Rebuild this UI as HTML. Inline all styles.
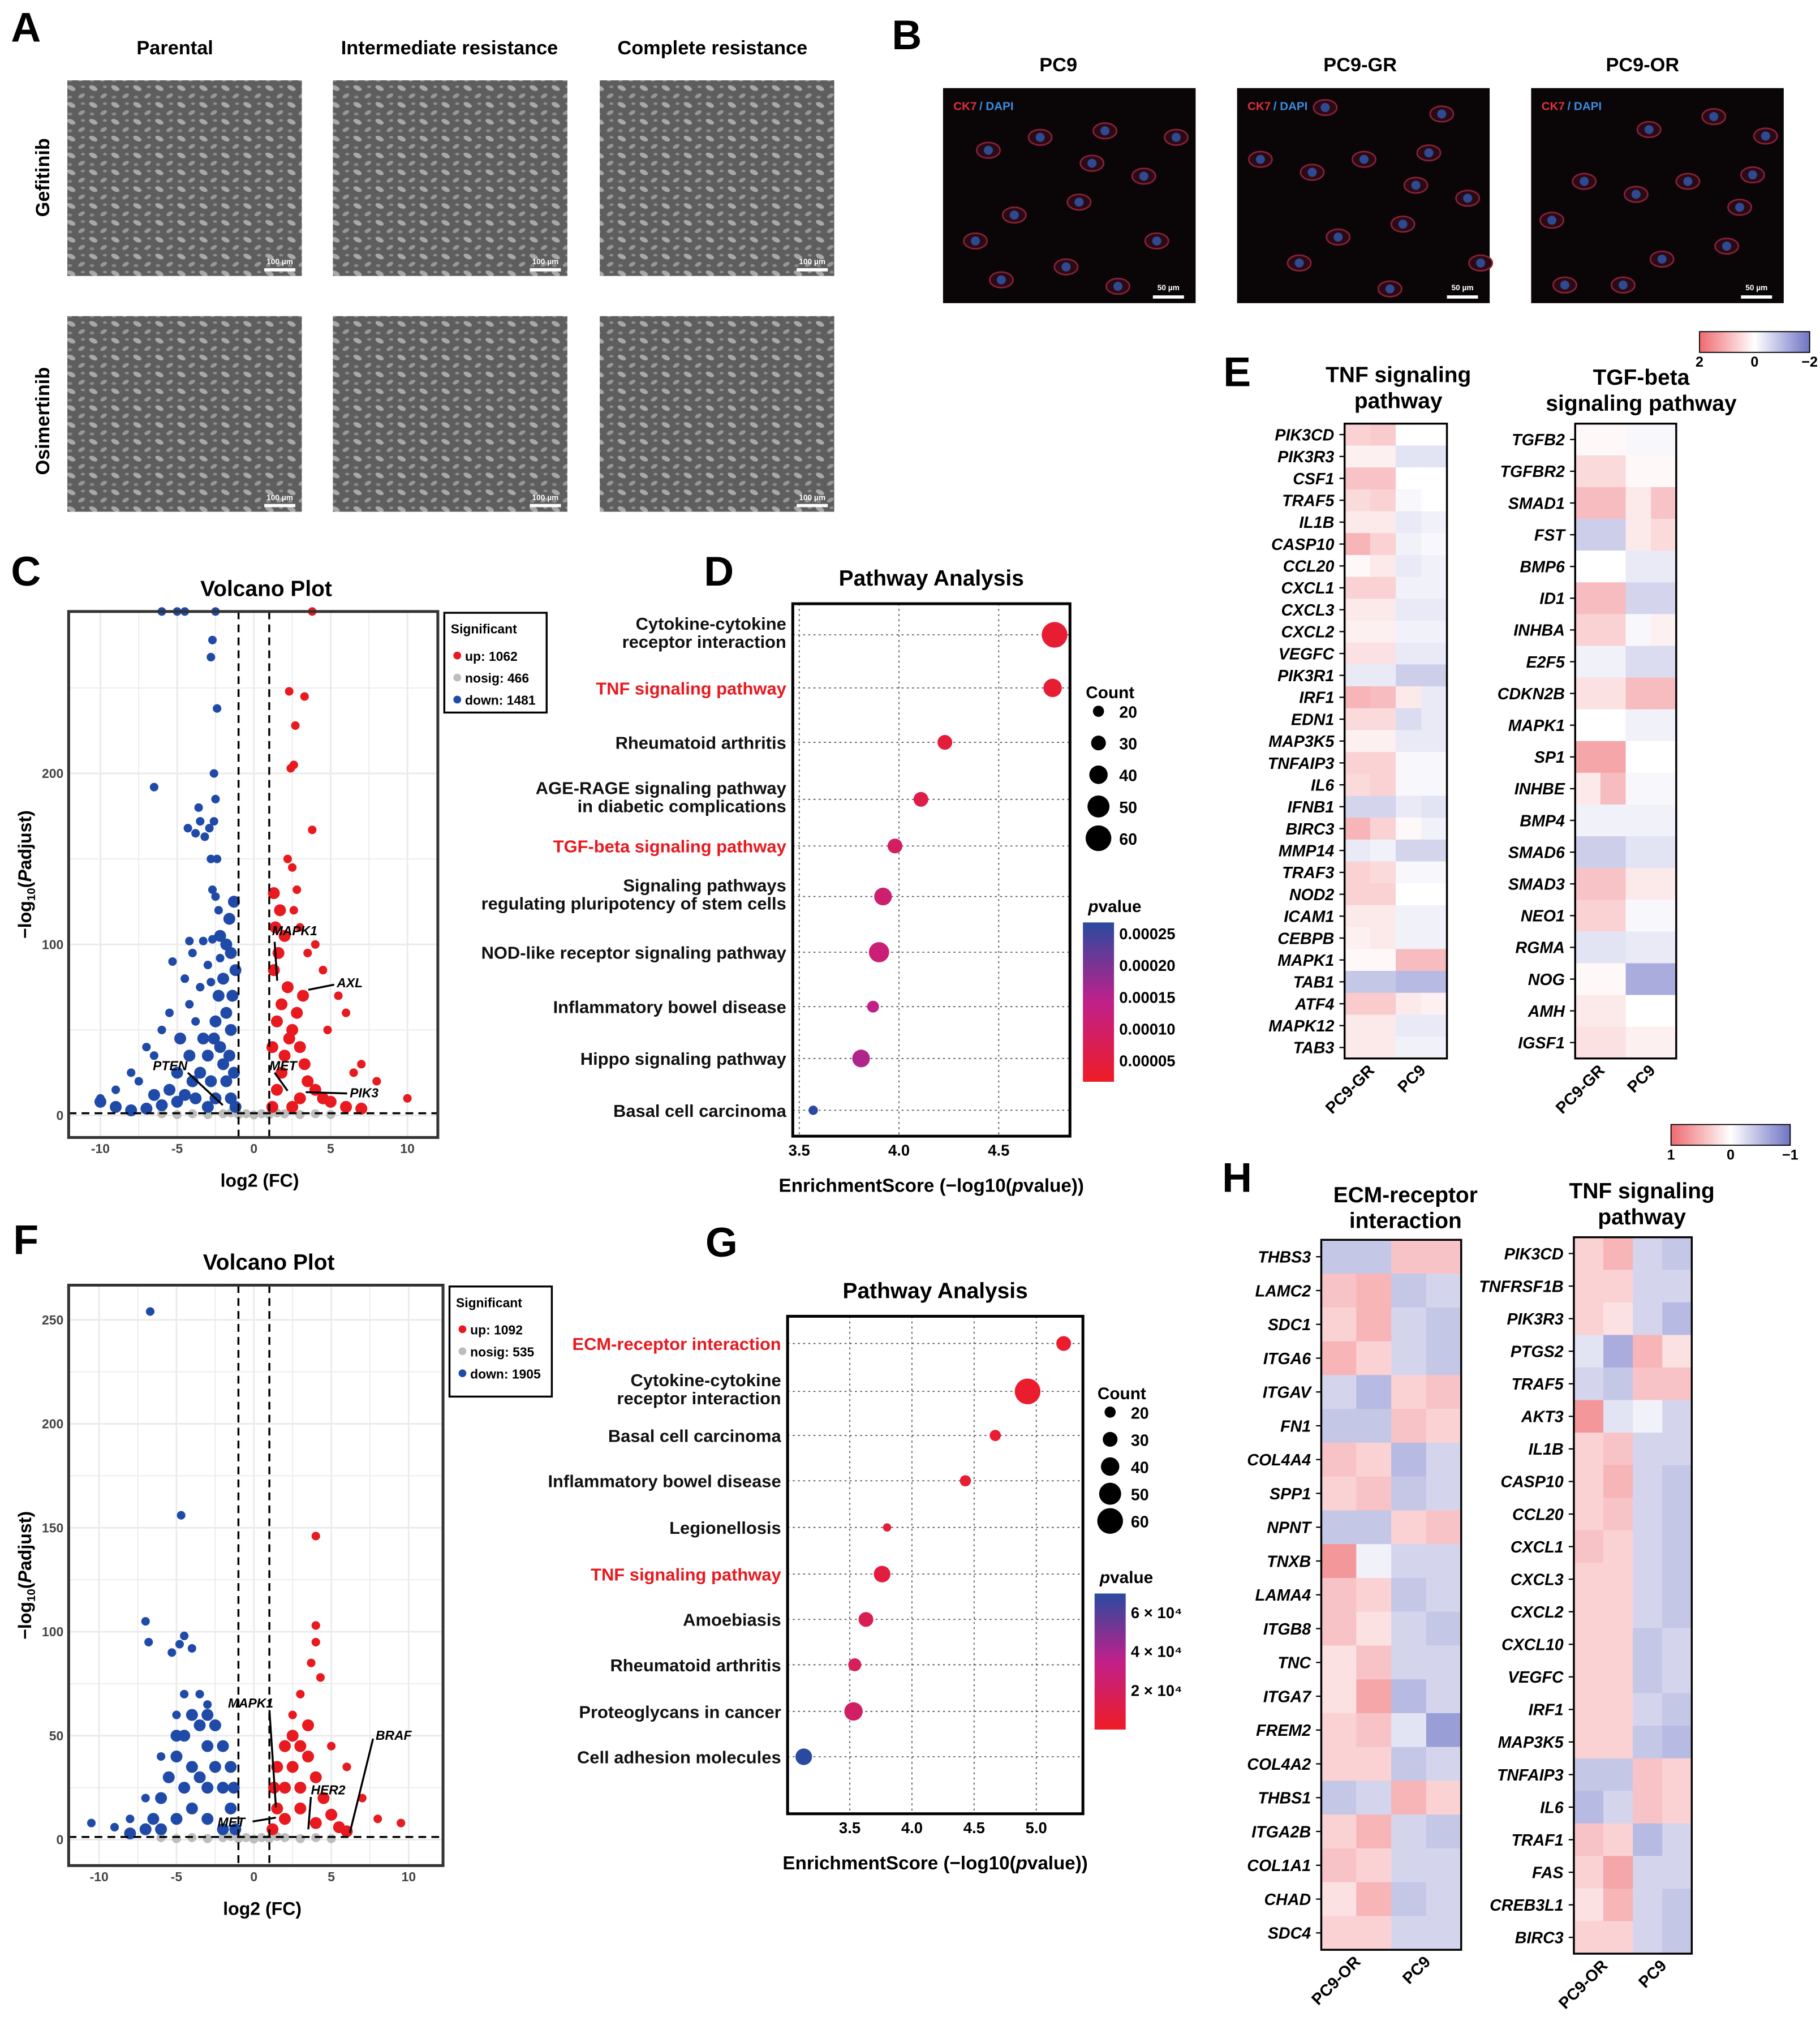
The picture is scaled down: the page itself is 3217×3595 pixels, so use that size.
<!DOCTYPE html>
<html><head><meta charset="utf-8"><style>
html,body{margin:0;padding:0;background:#fff;}
svg{display:block;font-family:"Liberation Sans",Arial,sans-serif;}
</style></head><body>
<svg id="fig" xmlns="http://www.w3.org/2000/svg" width="3217" height="3595" viewBox="0 0 1405 1570" preserveAspectRatio="none">
<defs>
<pattern id="cells" width="17" height="13" patternUnits="userSpaceOnUse">
<rect width="17" height="13" fill="#5e5e5e"/>
<ellipse cx="4" cy="3" rx="3.4" ry="1.8" fill="#a8a8a8" transform="rotate(25 4 3)"/>
<ellipse cx="12" cy="9" rx="2.8" ry="1.5" fill="#979797" transform="rotate(-30 12 9)"/>
<ellipse cx="3" cy="10" rx="1.8" ry="1.2" fill="#888"/>
<ellipse cx="13" cy="2" rx="1.6" ry="1" fill="#8e8e8e"/>
</pattern>
<linearGradient id="gE" x1="0" x2="1"><stop offset="0" stop-color="#ee6a70"/><stop offset="0.5" stop-color="#ffffff"/><stop offset="1" stop-color="#6f74c4"/></linearGradient>
<linearGradient id="gP" x1="0" y1="0" x2="0" y2="1"><stop offset="0" stop-color="#2a4aa0"/><stop offset="0.5" stop-color="#c0208a"/><stop offset="1" stop-color="#ee1c25"/></linearGradient>
</defs>
</svg>
<script>
// ---------- DATA ----------
const dCats=["Cytokine-cytokine|receptor interaction","TNF signaling pathway","Rheumatoid arthritis","AGE-RAGE signaling pathway|in diabetic complications","TGF-beta signaling pathway","Signaling pathways|regulating pluripotency of stem cells","NOD-like receptor signaling pathway","Inflammatory bowel disease","Hippo signaling pathway","Basal cell carcinoma"];
const dRed=[false,true,false,false,true,false,false,false,false,false];
const dScore=[4.78,4.77,4.23,4.11,3.98,3.92,3.90,3.87,3.81,3.57];
const dCount=[60,40,30,30,30,38,45,22,38,15];
const dP=[0.00002,0.00002,0.00003,0.00005,0.00008,0.0001,0.00011,0.00013,0.00015,0.00027];
const dTicks=[3.5,4.0,4.5];
const dPTicks=["0.00025","0.00020","0.00015","0.00010","0.00005"];
const gCats=["ECM-receptor interaction","Cytokine-cytokine|receptor interaction","Basal cell carcinoma","Inflammatory bowel disease","Legionellosis","TNF signaling pathway","Amoebiasis","Rheumatoid arthritis","Proteoglycans in cancer","Cell adhesion molecules"];
const gRed=[true,false,false,false,false,true,false,false,false,false];
const gScore=[5.22,4.93,4.67,4.43,3.80,3.76,3.63,3.54,3.53,3.13];
const gCount=[30,60,20,20,12,35,30,25,40,35];
const gP=[0.00003,0.00003,0.00004,0.00005,0.00006,0.00009,0.00016,0.00018,0.00021,0.0007];
const gTicks=[3.5,4.0,4.5,5.0];
const gPTicks=["6 × 10⁴","4 × 10⁴","2 × 10⁴"];
const countLegend=[20,30,40,50,60];

const cDownOut=[[-6,295],[-5,295],[-4.5,295],[-2.5,295],[-2.7,278],[-2.8,268],[-2.4,238],[-2.6,200],[-6.5,192],[-2.5,185],[-3.6,180],[-3.5,172],[-2.6,172],[-4.3,168],[-3.8,165],[-2.9,168],[-3.2,163],[-2.8,150],[-2.4,150],[-2.7,132],[-2.5,128],[-2.3,120],[-4.2,102],[-3.3,102],[-2.7,103],[-4,95],[-5.3,90],[-3,88],[-2.2,92],[-4.5,80],[-3.5,75],[-2.8,78],[-5.5,60],[-4.2,65],[-6,50],[-3.8,55],[-7,40],[-6.5,35],[-8,25],[-9,15],[-10,10],[-7.5,20]];
const cDownDense=[[-1.2,5],[-1.5,10],[-1.8,20],[-2,30],[-2.2,40],[-1.5,50],[-2.5,55],[-1.8,60],[-2.3,70],[-1.6,35],[-1.3,25],[-2.8,20],[-3,35],[-3.3,45],[-2.6,45],[-1.4,70],[-1.2,85],[-2,80],[-3.5,25],[-4,20],[-4.5,12],[-5,8],[-3.8,10],[-2.5,10],[-3,5],[-6,6],[-7,4],[-8,3],[-9,5],[-10,8],[-1.5,95],[-1.8,100],[-2.2,105],[-1.6,115],[-1.3,125],[-4.2,35],[-5,25],[-5.5,15],[-6.5,12],[-4.8,45]];
const cUpOut=[[3.8,295],[2.3,248],[3.3,245],[2.7,228],[2.4,203],[2.6,205],[3.8,167],[2.2,150],[2.5,145],[2.8,132],[2.6,120],[3,110],[4,100],[3.5,95],[4.5,85],[5.5,70],[6,60],[4.8,50],[7,30],[8,20],[10,10],[6.5,25]];
const cUpDense=[[1.2,5],[1.5,15],[1.8,25],[2,35],[2.3,45],[1.5,55],[2.5,50],[1.8,65],[2.2,75],[1.3,85],[1.6,95],[2,105],[1.4,110],[1.7,120],[3,40],[3.3,30],[3.5,20],[4,15],[4.5,10],[5,8],[3,10],[2.5,5],[6,5],[7,4],[2.8,60],[3.2,70],[1.2,40],[1.3,130]];
const cGray=[[-6,1],[-5,0.5],[-4,1],[-3,0.5],[-2,1],[-1,0.5],[0,0.3],[1,0.5],[2,1],[3,0.5],[4,1],[5,0.5],[-1.5,1.5],[1.5,1.5],[-0.5,1],[0.5,1]];
const fDownOut=[[-6.7,254],[-4.7,156],[-7,105],[-4.5,98],[-6.8,95],[-4,92],[-5.3,90],[-4.8,94],[-10.5,8],[-9,6],[-8,10],[-7,20],[-6,40],[-5,60],[-3.5,70],[-4.5,70],[-3,65]];
const fDownDense=[[-1.2,5],[-1.5,15],[-2,25],[-2.5,35],[-3,45],[-3.5,55],[-4,60],[-4.5,50],[-5,40],[-5.5,30],[-6,20],[-6.5,10],[-7,5],[-8,3],[-2,5],[-3,10],[-4,15],[-5,10],[-3,25],[-4,35],[-2,45],[-1.5,35],[-2.5,55],[-3.5,30],[-4.5,25],[-5,50],[-3,60],[-1.3,25],[-6,5]];
const fUpOut=[[4,146],[4,103],[4,95],[3.7,85],[4.3,78],[2.5,60],[5,45],[6,35],[7,20],[8,10],[9.5,8],[3,70]];
const fUpDense=[[1.2,5],[1.5,15],[2,25],[2.5,35],[3,45],[3.5,40],[4,30],[4.5,20],[5,12],[5.5,6],[2,10],[3,15],[4,8],[1.5,35],[2,45],[3,25],[2.5,50],[1.3,25],[6,4],[3.5,55]];
const fGray=cGray;
const cYTicks=[0,100,200];
const fYTicks=[0,50,100,150,200,250];
const xTicks=[-10,-5,0,5,10];

const eTnfGenes=["PIK3CD","PIK3R3","CSF1","TRAF5","IL1B","CASP10","CCL20","CXCL1","CXCL3","CXCL2","VEGFC","PIK3R1","IRF1","EDN1","MAP3K5","TNFAIP3","IL6","IFNB1","BIRC3","MMP14","TRAF3","NOD2","ICAM1","CEBPB","MAPK1","TAB1","ATF4","MAPK12","TAB3"];
const eTnfVals=[[.6,.7,0,0],[.2,.2,-.4,-.4],[.8,.8,0,0],[.5,.6,-.1,0],[.3,.3,-.3,-.2],[1,.6,-.2,-.1],[.1,.3,-.3,-.2],[.6,.6,-.2,-.2],[.3,.3,-.3,-.3],[.2,.2,-.2,-.2],[.4,.4,-.3,-.3],[-.3,-.3,-.7,-.7],[1,.9,.3,-.3],[.5,.5,-.5,-.3],[.2,.2,-.3,-.3],[.6,.6,-.1,-.1],[.5,.6,-.1,-.1],[-.6,-.6,-.3,-.4],[1,.6,.1,-.2],[-.3,-.2,-.6,-.6],[.6,.5,-.1,-.1],[.6,.6,0,0],[.3,.3,-.2,-.2],[.2,.3,-.2,-.2],[.1,.1,.9,.9],[-.8,-.8,-1,-1],[.7,.7,.3,.2],[.3,.3,-.3,-.3],[.3,.3,-.2,-.2]];
const eTgfGenes=["TGFB2","TGFBR2","SMAD1","FST","BMP6","ID1","INHBA","E2F5","CDKN2B","MAPK1","SP1","INHBE","BMP4","SMAD6","SMAD3","NEO1","RGMA","NOG","AMH","IGSF1"];
const eTgfVals=[[.1,.1,-.1,-.1],[.5,.5,.1,.1],[.9,.9,.3,.8],[-.7,-.7,.3,.5],[0,0,-.3,-.3],[.9,.9,-.6,-.6],[.6,.6,-.1,.2],[-.2,-.2,-.5,-.5],[.4,.4,.9,.9],[0,0,-.2,-.2],[1.2,1.2,0,0],[.3,.9,-.1,-.1],[-.2,-.2,-.2,-.2],[-.7,-.7,-.4,-.4],[.8,.8,.3,.3],[.6,.6,-.1,-.1],[-.4,-.4,-.3,-.3],[.1,.1,-1.2,-1.2],[.3,.3,0,0],[.4,.4,.2,.2]];
const hEcmGenes=["THBS3","LAMC2","SDC1","ITGA6","ITGAV","FN1","COL4A4","SPP1","NPNT","TNXB","LAMA4","ITGB8","TNC","ITGA7","FREM2","COL4A2","THBS1","ITGA2B","COL1A1","CHAD","SDC4"];
const hEcmVals=[[-.4,-.4,.4,.4],[.4,.5,-.4,-.3],[.3,.5,-.3,-.4],[.5,.3,-.3,-.4],[-.3,-.5,.3,.4],[-.4,-.4,.4,.3],[.4,.3,-.5,-.3],[.3,.4,-.4,-.3],[-.4,-.4,.3,.4],[.7,-.1,-.3,-.3],[.4,.3,-.4,-.3],[.4,.2,-.3,-.4],[.2,.4,-.3,-.3],[.2,.6,-.5,-.3],[.3,.4,-.2,-.7],[.3,.3,-.4,-.3],[-.4,-.3,.5,.3],[.3,.5,-.3,-.4],[.4,.3,-.3,-.3],[.2,.5,-.4,-.3],[.3,.3,-.3,-.3]];
const hTnfGenes=["PIK3CD","TNFRSF1B","PIK3R3","PTGS2","TRAF5","AKT3","IL1B","CASP10","CCL20","CXCL1","CXCL3","CXCL2","CXCL10","VEGFC","IRF1","MAP3K5","TNFAIP3","IL6","TRAF1","FAS","CREB3L1","BIRC3"];
const hTnfVals=[[.3,.5,-.3,-.4],[.3,.3,-.3,-.3],[.3,.2,-.3,-.5],[-.2,-.6,.5,.2],[-.3,-.4,.4,.4],[.7,-.2,-.1,-.3],[.3,.4,-.3,-.3],[.3,.5,-.3,-.4],[.3,.4,-.3,-.4],[.4,.3,-.3,-.4],[.3,.3,-.3,-.4],[.3,.3,-.3,-.4],[.3,.3,-.4,-.3],[.3,.3,-.4,-.3],[.3,.3,-.3,-.4],[.3,.3,-.4,-.5],[-.4,-.4,.4,.3],[-.5,-.3,.4,.3],[.4,.3,-.5,-.3],[.3,.6,-.3,-.3],[.2,.5,-.3,-.4],[.3,.3,-.3,-.4]];

// ---------- HELPERS ----------
const NS="http://www.w3.org/2000/svg";
const svg=document.getElementById('fig');
function mk(tag,a,p){const e=document.createElementNS(NS,tag);for(const k in a)e.setAttribute(k,a[k]);(p||svg).appendChild(e);return e;}
function tx(x,y,s,size,opt){opt=opt||{};const e=mk('text',{x:x,y:y,'font-size':size,'font-weight':opt.w||'bold','text-anchor':opt.a||'middle',fill:opt.f||'#000'});if(opt.i)e.setAttribute('font-style','italic');if(opt.r)e.setAttribute('transform','rotate('+opt.r+' '+x+' '+y+')');e.textContent=s;return e;}
function lerp(a,b,t){return Math.round(a+(b-a)*t);}
function heatColor(v,max){let t=Math.max(-1,Math.min(1,v/max));if(t>=0)return 'rgb('+lerp(255,238,t)+','+lerp(255,106,t)+','+lerp(255,112,t)+')';t=-t;return 'rgb('+lerp(255,111,t)+','+lerp(255,116,t)+','+lerp(255,196,t)+')';}
function pColor(t){
 let c1,c2,u;if(t<0.5){c1=[238,28,37];c2=[192,32,138];u=t/0.5;}else{c1=[192,32,138];c2=[42,74,160];u=(t-0.5)/0.5;}
 return 'rgb('+lerp(c1[0],c2[0],u)+','+lerp(c1[1],c2[1],u)+','+lerp(c1[2],c2[2],u)+')';}

[["A",20,32],["B",700,38],["C",20,452],["D",555,452],["E",955,298],["F",20,968],["G",557,970],["H",955,920]].forEach(l=>{const e=tx(l[1],l[2],l[0],32,{a:'middle'});

});

// ---------- PANEL A ----------
const aCols=[[52,"Parental",135],[257,"Intermediate resistance",347],[463,"Complete resistance",550]];
aCols.forEach((c,i)=>{const t=tx(c[2],42,c[1],15);


[62,244].forEach(y=>{const r=mk('rect',{x:c[0],y:y,width:181,height:151,fill:'url(#cells)'});


const sb=mk('rect',{x:c[0]+152,y:y+145,width:24,height:2.5,fill:'#fff'});


const st=tx(c[0]+164,y+142,"100 µm",6,{f:'#fff'});

});});
[["Gefitinib",137],["Osimertinib",325]].forEach(r=>{const t=tx(38,r[1],r[0],15,{r:-90});

});

// ---------- PANEL B ----------
const bCols=[[728,"PC9",817],[955,"PC9-GR",1050],[1182,"PC9-OR",1268]];
const cellPos=[[30,40],[70,30],[120,25],[150,60],[50,90],[100,80],[160,110],[40,140],[90,130],[130,145],[20,110],[175,30],[110,50]];
bCols.forEach((c,i)=>{const t=tx(c[2],55,c[1],15);


const r=mk('rect',{x:c[0],y:68,width:195,height:166,fill:'#0a0608'});


cellPos.forEach((p,k)=>{const cx=c[0]+((p[0]+i*23)%185)+5,cy=68+((p[1]+i*17)%150)+8;
const e=mk('ellipse',{cx:cx,cy:cy,rx:9,ry:6,fill:'#2a0a14',stroke:'#8a2035','stroke-width':1.2});


const n=mk('circle',{cx:cx,cy:cy,r:3.5,fill:'#2f4a90'});

});
const l1=tx(c[0]+8,85,"CK7",9,{a:'start',f:'#e0303a'});


const l2=tx(c[0]+28,85,"/ DAPI",9,{a:'start',f:'#3c8ce0'});


const sb=mk('rect',{x:c[0]+162,y:228,width:24,height:2.5,fill:'#fff'});


const st=tx(c[0]+174,224,"50 µm",6,{f:'#fff'});

});

// ---------- VOLCANO ----------
function volcano(o){
 const X=v=>o.xZero+v*o.xpu;
 const Y=v=>o.yZero-v*o.ypu;
 const g=mk('g',{});
 
 
 const bg=mk('rect',{x:o.x0,y:o.y0,width:o.x1-o.x0,height:o.y1-o.y0,fill:'#fff'},g);
 
 
 for(let v=-12.5;v<=12.5;v+=2.5){if(X(v)<=o.x0||X(v)>=o.x1)continue;const l=mk('line',{x1:X(v),x2:X(v),y1:o.y0,y2:o.y1,stroke:'#ebebeb','stroke-width':v%5===0?1.3:0.8},g);
 
 }
 o.yt.forEach((v,i)=>{[v,v+(o.yt[1]-o.yt[0])/2].forEach(w=>{if(Y(w)<o.y0)return;const l=mk('line',{x1:o.x0,x2:o.x1,y1:Y(w),y2:Y(w),stroke:'#ebebeb','stroke-width':w===v?1.3:0.8},g);
 
 });
 const t=tx(o.x0-4,Y(v)+3.5,String(v),10,{a:'end',f:'#444'});
 
 });
 xTicks.forEach(v=>{const t=tx(X(v),o.y1+12,String(v),10,{f:'#444'});
 
 });
 function pts(arr,col,r,nm){arr.forEach(p=>{const c=mk('circle',{cx:X(p[0]),cy:Math.max(o.y0,Y(p[1])),r:r,fill:col},g);
 
 });}
 pts(o.gray,'#bdbdbd',3.5,'point-nosig');
 pts(o.downDense,'#1f4aa8',4.6,'point-down');
 pts(o.downOut,'#1f4aa8',3.3,'point-down');
 pts(o.upDense,'#e8191f',4.6,'point-up');
 pts(o.upOut,'#e8191f',3.3,'point-up');
 [-1,1].forEach(v=>{const l=mk('line',{x1:X(v),x2:X(v),y1:o.y0,y2:o.y1,stroke:'#000','stroke-width':1.5,'stroke-dasharray':'6,4'},g);
 
 });
 const h=mk('line',{x1:o.x0,x2:o.x1,y1:Y(1.3),y2:Y(1.3),stroke:'#000','stroke-width':1.5,'stroke-dasharray':'6,4'},g);
 
 
 o.ann.forEach(a=>{const l=mk('line',{x1:a[3],y1:a[4],x2:a[5],y2:a[6],stroke:'#000','stroke-width':1.5},g);
 
 
 const t=tx(a[1],a[2],a[0],10,{i:1,a:'start'});
 
 });
 const fr=mk('rect',{x:o.x0,y:o.y0,width:o.x1-o.x0,height:o.y1-o.y0,fill:'none',stroke:'#333','stroke-width':2.2},g);
 
 
 const ti=tx((o.x0+o.x1)/2+10,o.y0-12,"Volcano Plot",17);
 
 
 const xl=tx((o.x0+o.x1)/2+5,o.y1+38,"log2 (FC)",14);
 
 
 const yl=mk('text',{x:24,y:(o.y0+o.y1)/2,'font-size':14,'font-weight':'bold','text-anchor':'middle',transform:'rotate(-90 24 '+(o.y0+o.y1)/2+')'});
 yl.innerHTML='−log<tspan font-size="9" dy="3">10</tspan><tspan dy="-3">(</tspan><tspan font-style="italic">P</tspan>adjust)';
 
 
 const lx=o.x1+5,ly=o.y0+1;
 const lb=mk('rect',{x:lx,y:ly,width:79,height:o.legH,fill:'#fff',stroke:'#000','stroke-width':1.5},g);
 
 
 const lt=tx(lx+5,ly+16,"Significant",10,{a:'start'});
 
 
 [["up: "+o.nUp,'#e8191f'],["nosig: "+o.nNo,'#bdbdbd'],["down: "+o.nDown,'#1f4aa8']].forEach((e,i)=>{
 const c=mk('circle',{cx:lx+10,cy:ly+33+i*17,r:3,fill:e[1]},g);
 
 
 const t=tx(lx+16,ly+37+i*17,e[0],10,{a:'start'});
 
 });
}
volcano({name:'volcano-c',x0:53,x1:338,y0:472,y1:878,xZero:196,xpu:11.85,yZero:861,ypu:1.32,yt:cYTicks,gray:cGray,downDense:cDownDense,downOut:cDownOut,upDense:cUpDense,upOut:cUpOut,nUp:1062,nNo:466,nDown:1481,legH:77,
 ann:[["MAPK1",210,722,212,727,214,757],["AXL",260,762,258,760,238,764],["PTEN",118,826,145,828,172,853],["MET",208,826,212,828,222,842],["PIK3",270,847,236,843,268,844]]});
volcano({name:'volcano-f',x0:53,x1:342,y0:992,y1:1440,xZero:196,xpu:11.95,yZero:1420,ypu:1.605,yt:fYTicks,gray:fGray,downDense:fDownDense,downOut:fDownOut,upDense:fUpDense,upOut:fUpOut,nUp:1092,nNo:535,nDown:1905,legH:85,
 ann:[["MAPK1",176,1318,208,1320,213,1395],["BRAF",290,1343,288,1342,270,1415],["HER2",240,1385,240,1387,238,1412],["MET",168,1410,195,1406,213,1403]]});

// ---------- DOT PLOTS ----------
function dotplot(o){
 const X=v=>o.xa+(v-o.v0)*o.ppu;
 const rS=c=>1.5+c*0.14;
 const g=mk('g',{});
 
 
 o.ticks.forEach(v=>{const l=mk('line',{x1:X(v),x2:X(v),y1:o.y0,y2:o.y1,stroke:'#555','stroke-width':0.8,'stroke-dasharray':'1.5,2.5'},g);
 
 
 const t=tx(X(v),o.y1+15,v.toFixed(1),12);
 
 });
 o.cats.forEach((c,i)=>{const y=o.cy[i];
 const l=mk('line',{x1:o.x0,x2:o.x1,y1:y,y2:y,stroke:'#555','stroke-width':0.8,'stroke-dasharray':'1.5,2.5'},g);
 
 
 const parts=c.split('|');
 parts.forEach((p,k)=>{const t=tx(o.x0-5,y+5+(k-(parts.length-1)/2)*14-(parts.length>1?2:0),p,13.5,{a:'end',f:o.red[i]?'#e8191f':'#111'});
 
 });
 const d=mk('circle',{cx:X(o.score[i]),cy:y,r:rS(o.count[i]),fill:pColor(o.p[i]/o.pmax)},g);
 
 });
 const fr=mk('rect',{x:o.x0,y:o.y0,width:o.x1-o.x0,height:o.y1-o.y0,fill:'none',stroke:'#000','stroke-width':2.2},g);
 
 
 const ti=tx((o.x0+o.x1)/2,o.y0-14,"Pathway Analysis",17);
 
 
 const xl=mk('text',{x:(o.x0+o.x1)/2,y:o.y1+43,'font-size':14.5,'font-weight':'bold','text-anchor':'middle'},g);
 xl.innerHTML='EnrichmentScore (−log10(<tspan font-style="italic">p</tspan>value))';
 
 
 const ct=tx(o.lx+17,o.cly-10,"Count",13);
 
 
 countLegend.forEach((c,i)=>{const y=o.cly+i*o.cls;
 const d=mk('circle',{cx:o.lx+8,cy:y,r:rS(c),fill:'#000'},g);
 
 
 const t=tx(o.lx+24,y+5,String(c),12.5,{a:'start'});
 
 });
 const pt=mk('text',{x:o.lx,y:o.pby-8,'font-size':13,'font-weight':'bold','font-style':'italic'},g);
 pt.innerHTML='p<tspan font-style="normal">value</tspan>';
 
 
 const cb=mk('rect',{x:o.lx-4,y:o.pby,width:24,height:o.pbh,fill:'url(#gP)'},g);
 
 
 o.pt.forEach((s,i)=>{const y=o.pby+o.pt0+i*o.pts;
 const t=tx(o.lx+24,y+4,s,12,{a:'start'});
 
 });
}
dotplot({name:'dotplot-d',cats:dCats,red:dRed,score:dScore,count:dCount,p:dP,pmax:0.00027,ticks:dTicks,x0:612,x1:826,y0:466,y1:877,xa:617,v0:3.5,ppu:154,
 cy:[490,531,573,617,653,692,735,777,817,857],lx:840,cly:549,cls:24.5,pby:712,pbh:123,pt:dPTicks,pt0:9,pts:24.5});
dotplot({name:'dotplot-g',cats:gCats,red:gRed,score:gScore,count:gCount,p:gP,pmax:0.0007,ticks:gTicks,x0:608,x1:836,y0:1016,y1:1400,xa:656,v0:3.5,ppu:96,
 cy:[1037,1074,1108,1143,1179,1215,1250,1285,1321,1356],lx:849,cly:1090,cls:21,pby:1230,pbh:105,pt:gPTicks,pt0:15,pts:30});

// ---------- HEATMAPS ----------
function heatmap(o){
 const g=mk('g',{});
 
 
 const n=o.genes.length,rh=(o.y1-o.y0)/n,cw=(o.x1-o.x0)/4;
 o.vals.forEach((row,i)=>{row.forEach((v,j)=>{const r=mk('rect',{x:o.x0+j*cw,y:o.y0+i*rh,width:cw+0.3,height:rh+0.3,fill:heatColor(v,o.max)},g);
 
 });
 const t=tx(o.x0-8,o.y0+(i+0.5)*rh+4.5,o.genes[i],12.5,{a:'end',i:1});
 
 
 const tk=mk('line',{x1:o.x0-4,x2:o.x0,y1:o.y0+(i+0.5)*rh,y2:o.y0+(i+0.5)*rh,stroke:'#000','stroke-width':1},g);
 
 });
 const fr=mk('rect',{x:o.x0,y:o.y0,width:o.x1-o.x0,height:o.y1-o.y0,fill:'none',stroke:'#000','stroke-width':1.5},g);
 
 
 o.title.forEach((s,k)=>{const t=tx((o.x0+o.x1)/2+o.tdx,o.ty+k*20,s,17);
 
 });
 [[o.cols[0],o.x0+cw],[o.cols[1],o.x0+3*cw]].forEach(c=>{const x=c[1]+4,y=o.y1+10;
 const t=tx(x,y,c[0],12.5,{a:'end',r:-45});
 
 });
}
heatmap({name:'heatmap-e-tnf',genes:eTnfGenes,vals:eTnfVals,max:2,x0:1038,x1:1117,y0:327,y1:817,title:["TNF signaling","pathway"],ty:295,tdx:2,cols:["PC9-GR","PC9"]});
heatmap({name:'heatmap-e-tgf',genes:eTgfGenes,vals:eTgfVals,max:2,x0:1216,x1:1294,y0:327,y1:817,title:["TGF-beta","signaling pathway"],ty:297,tdx:12,cols:["PC9-GR","PC9"]});
heatmap({name:'heatmap-h-ecm',genes:hEcmGenes,vals:hEcmVals,max:1,x0:1020,x1:1128,y0:957,y1:1505,title:["ECM-receptor","interaction"],ty:928,tdx:11,cols:["PC9-OR","PC9"]});
heatmap({name:'heatmap-h-tnf',genes:hTnfGenes,vals:hTnfVals,max:1,x0:1215,x1:1306,y0:955,y1:1508,title:["TNF signaling","pathway"],ty:925,tdx:7,cols:["PC9-OR","PC9"]});

[[1312,256,85,["2","0","−2"]],[1290,868,92,["1","0","−1"]]].forEach(b=>{
 const r=mk('rect',{x:b[0],y:b[1],width:b[2],height:16,fill:'url(#gE)',stroke:'#000','stroke-width':0.8});
 
 
 b[3].forEach((s,i)=>{const t=tx(b[0]+i*b[2]/2,b[1]+27,s,11);
 
 });});
</script>
</body></html>
